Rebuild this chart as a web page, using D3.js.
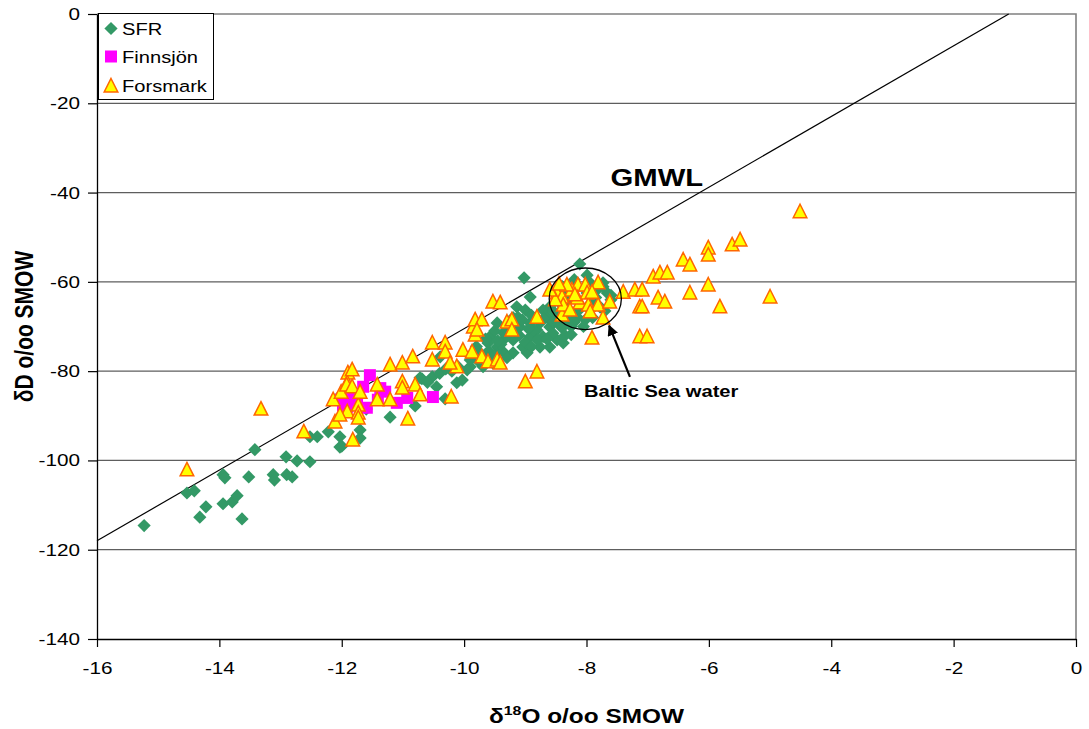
<!DOCTYPE html>
<html><head><meta charset="utf-8">
<script src="https://cdn.jsdelivr.net/npm/d3@7"></script>
<style>
html,body{margin:0;padding:0;background:#fff;}
svg{display:block;font-family:Arial,"Liberation Sans",Helvetica,sans-serif;}
</style></head><body>
<svg id="chart" width="1089" height="729"></svg>
<script>
// δ18O / δD pairs (‰ SMOW) per sampling area
const sfr = [
  [-15.23,-114.6],[-14.53,-107.3],[-14.41,-106.8],[-14.32,-112.7],[-14.22,-110.4],
  [-13.94,-103.2],[-13.91,-103.9],[-13.94,-109.7],[-13.79,-109.3],[-13.71,-107.9],
  [-13.63,-113.1],[-13.52,-103.7],[-13.42,-97.6],[-13.12,-103.2],[-13.10,-104.4],
  [-12.91,-99.2],[-12.90,-103.2],[-12.81,-103.7],[-12.73,-100.1],[-12.52,-100.3],
  [-12.52,-94.7],[-12.40,-94.7],[-12.22,-93.6],[-12.03,-94.7],[-12.00,-96.8],
  [-12.03,-97.0],[-11.70,-93.2],[-11.70,-95.0],[-11.21,-90.3],[-10.80,-87.8],
  [-10.69,-81.7],[-10.52,-81.3],[-10.31,-86.2],[-10.12,-82.6],[-10.03,-82.0],
  [-9.95,-79.7],[-10.39,-76.8],[-10.72,-81.5],[-12.05,-85.8],[-11.60,-88.5],
  [-10.20,-80.0],[-10.40,-80.5],[-9.90,-79.0],[-9.69,-79.0],[-9.53,-78.2],
  [-9.85,-76.4],[-9.74,-75.9],[-9.61,-73.7],[-9.58,-72.3],[-9.46,-74.6],
  [-9.36,-75.7],[-9.20,-75.9],[-8.97,-75.9],[-9.36,-73.0],[-9.20,-73.0],
  [-9.04,-74.6],[-8.92,-72.3],[-8.71,-72.3],[-8.48,-73.0],[-8.38,-73.7],
  [-8.60,-74.6],[-8.76,-74.6],[-9.46,-69.2],[-9.30,-70.1],[-9.09,-70.1],
  [-8.92,-69.2],[-8.76,-69.2],[-8.60,-70.1],[-9.14,-65.6],[-9.00,-66.3],
  [-9.12,-67.9],[-8.81,-70.8],[-9.25,-70.8],[-9.36,-71.4],[-8.40,-70.3],
  [-8.65,-67.9],[-8.48,-67.9],[-8.38,-65.6],[-8.32,-68.5],[-8.15,-67.9],
  [-7.99,-65.6],[-7.94,-60.2],[-7.83,-61.8],[-7.66,-62.5],[-7.73,-60.2],
  [-7.99,-62.5],[-8.60,-65.6],[-8.71,-66.3],[-8.92,-63.4],[-9.02,-59.1],
  [-8.11,-56.0],[-7.99,-58.5],[-7.73,-61.1],[-7.78,-65.6],[-8.02,-68.5],
  [-8.22,-67.0],[-9.65,-77.0],[-9.30,-77.0],[-9.10,-72.0],[-8.85,-71.0],
  [-8.55,-71.5],[-8.25,-70.0],[-8.10,-66.0],[-8.30,-64.0],[-8.50,-62.5],
  [-7.85,-63.5],[-7.60,-64.0],[-8.40,-61.0],[-9.20,-68.0],[-9.80,-74.5],
  [-9.90,-77.5],[-9.75,-78.0],[-9.60,-75.5],[-9.50,-76.5],[-9.40,-74.0],
  [-9.30,-72.0],[-9.15,-71.5],[-9.00,-73.5],[-8.90,-74.5],[-8.80,-73.0],
  [-8.65,-72.8],[-8.55,-69.0],[-8.45,-69.5],[-8.35,-72.0],[-8.25,-71.8],
  [-8.70,-68.2],[-8.90,-67.5],[-9.05,-68.5],[-8.95,-70.5],[-9.50,-71.0],
  [-9.65,-72.8],[-9.45,-73.2],[-8.20,-69.0],[-8.05,-70.0],[-7.90,-68.0],
  [-7.70,-66.5],[-7.60,-63.0],[-7.90,-64.5],[-8.00,-61.0],[-8.20,-59.5],
  [-8.30,-62.5],[-8.55,-66.5],[-10.10,-79.0],[-10.30,-79.5],[-10.60,-82.5],
  [-10.45,-83.5]
];
const finnsjon = [
  [-11.54,-80.9],[-11.29,-84.6],[-11.37,-83.8],[-10.51,-85.8],[-10.93,-86.0],
  [-11.10,-87.1],[-11.75,-87.1],[-11.98,-87.6],[-11.59,-88.2],[-11.41,-86.4],
  [-11.86,-85.8],[-12.03,-86.4],[-11.91,-88.0],[-11.65,-83.5]
];
const forsmark = [
  [-14.53,-102.1],[-13.32,-88.5],[-12.62,-93.6],[-12.11,-91.4],[-12.14,-86.4],
  [-12.01,-84.7],[-11.91,-89.1],[-11.90,-80.4],[-11.91,-82.6],[-11.92,-83.1],
  [-11.83,-79.7],[-11.83,-83.5],[-12.03,-89.8],[-11.73,-87.6],[-11.73,-89.4],
  [-11.73,-90.5],[-11.70,-84.7],[-11.82,-95.4],[-11.42,-83.1],[-11.42,-86.4],
  [-11.21,-78.6],[-11.21,-86.4],[-11.01,-78.2],[-11.01,-82.4],[-11.01,-83.8],
  [-10.92,-90.7],[-10.84,-76.8],[-10.80,-83.1],[-10.72,-85.3],[-10.52,-73.7],
  [-10.52,-77.5],[-10.31,-73.7],[-10.31,-75.7],[-10.21,-85.8],[-10.12,-79.0],
  [-10.02,-75.3],[-10.23,-78.2],[-9.87,-75.7],[-9.85,-70.1],[-9.82,-71.9],
  [-9.82,-68.5],[-9.71,-68.5],[-9.79,-70.8],[-9.71,-76.8],[-9.53,-64.5],
  [-9.41,-64.7],[-9.61,-77.9],[-9.46,-77.5],[-9.41,-78.2],[-9.30,-69.0],
  [-9.22,-68.5],[-9.22,-70.8],[-9.00,-82.4],[-8.81,-67.9],[-8.81,-80.2],
  [-8.48,-62.5],[-8.40,-63.4],[-8.40,-67.4],[-8.38,-65.2],[-8.24,-61.8],
  [-8.14,-60.7],[-8.11,-64.7],[-8.15,-63.6],[-8.02,-60.7],[-7.99,-62.5],
  [-7.97,-65.2],[-7.81,-60.2],[-7.81,-65.2],[-7.62,-64.5],[-7.73,-68.1],
  [-7.91,-72.6],[-7.40,-62.3],[-7.21,-61.8],[-7.13,-65.6],[-7.13,-72.3],
  [-7.01,-72.3],[-7.09,-61.8],[-7.09,-65.6],[-6.91,-58.9],[-6.80,-58.0],
  [-6.68,-58.0],[-6.83,-63.6],[-6.72,-64.5],[-6.42,-55.1],[-6.31,-56.2],
  [-6.31,-62.5],[-6.01,-52.4],[-6.01,-54.0],[-6.01,-60.7],[-5.82,-65.6],
  [-5.62,-51.7],[-5.49,-50.6],[-5.00,-63.4],[-4.51,-44.3],
  [-8.32,-60.7],[-8.19,-62.9],[-7.91,-62.3],[-8.51,-64.0],[-8.27,-66.3],
  [-7.94,-66.7],[-8.60,-61.8],[-8.45,-60.5]
];
const seriesNames = ["SFR", "Finnsjön", "Forsmark"];
const xTicks = [-16, -14, -12, -10, -8, -6, -4, -2, 0];
const yTicks = [0, -20, -40, -60, -80, -100, -120, -140];
// Global meteoric water line, end points
const gmwl = [[-16, -118], [-1.1, 0]];
// Baltic Sea water annotation: ellipse centre, radii (data units), arrow tail/tip
const balticCentre = [-8.02, -63.8];
const balticRadii = [0.59, 6.9];
const balticArrow = [[-7.29, -81.3], [-7.63, -69.8]];

const plot = {left: 97, right: 1076, top: 14, bottom: 639};
const SX = 1.22;           // horizontal stretch of the lettering
const FONT = 'Arial,"Liberation Sans",Helvetica,sans-serif';

const svg = d3.select("#chart");
const x = d3.scaleLinear().domain([-16, 0]).range([plot.left, plot.right]);
const y = d3.scaleLinear().domain([-140, 0]).range([plot.bottom, plot.top]);

// stretched text helper
function label(parent, px, py, str, opt = {}) {
  const g = parent.append("g")
    .attr("transform", `translate(${px},${py}) scale(${SX},1)` + (opt.rotate ? ` rotate(${opt.rotate})` : ""));
  const t = g.append("text")
    .attr("font-family", FONT)
    .attr("font-size", opt.size || 17)
    .attr("font-weight", opt.bold ? "bold" : "normal")
    .attr("text-anchor", opt.anchor || "start")
    .attr("fill", "#000");
  if (str !== null) t.text(str);
  return t;
}

// horizontal gridlines
svg.append("g").selectAll("line")
  .data(yTicks.filter(d => d !== 0 && d !== -140))
  .join("line")
  .attr("x1", plot.left).attr("x2", plot.right)
  .attr("y1", d => y(d)).attr("y2", d => y(d))
  .attr("stroke", "#5e5e5e").attr("stroke-width", 1.2);

// top and right frame
svg.append("path")
  .attr("d", `M${plot.left},${y(0)}H${x(0)}V${y(-140)}`)
  .attr("fill", "none").attr("stroke", "#808080").attr("stroke-width", 1.6);

// axes
const yAxis = d3.axisLeft(y).tickValues(yTicks).tickSize(9).tickSizeOuter(0)
  .tickPadding(8).tickFormat(d => String(d));
const gy = svg.append("g").attr("transform", `translate(${plot.left},0)`).call(yAxis);
const xAxis = d3.axisBottom(x).tickValues(xTicks).tickSize(8).tickSizeOuter(0)
  .tickPadding(15).tickFormat(d => String(d));
const gx = svg.append("g").attr("transform", `translate(0,${plot.bottom})`).call(xAxis);
[gy, gx].forEach(g => {
  g.select(".domain").attr("stroke", "#000").attr("stroke-width", 1.3);
  g.selectAll(".tick line").attr("stroke", "#000").attr("stroke-width", 1.2);
  g.selectAll("text").attr("font-family", FONT).attr("font-size", 17).attr("fill", "#000")
    .each(function () {
      const t = d3.select(this);
      const xx = +t.attr("x") || 0;
      t.attr("x", xx / SX).attr("transform", `scale(${SX},1)`);
    });
});

// GMWL
svg.append("line")
  .attr("x1", x(gmwl[0][0])).attr("y1", y(gmwl[0][1]))
  .attr("x2", x(gmwl[1][0])).attr("y2", y(gmwl[1][1]))
  .attr("stroke", "#000").attr("stroke-width", 1.2);

// marker shapes
const shapes = {
  diamond: "M0,-6.6L6.6,0L0,6.6L-6.6,0Z",
  square: "M-6,-6H6V6H-6Z",
  triangle: "M0,-7.5L6.8,6L-6.8,6Z"
};
const styles = [
  {d: shapes.diamond, fill: "#339966", stroke: "none", sw: 0},
  {d: shapes.square, fill: "#FF00FF", stroke: "none", sw: 0},
  {d: shapes.triangle, fill: "#FFFF00", stroke: "#FF6600", sw: 1.5}
];
[sfr, finnsjon, forsmark].forEach((data, i) => {
  const s = styles[i];
  svg.append("g").selectAll("path").data(data).join("path")
    .attr("d", s.d)
    .attr("transform", d => `translate(${x(d[0])},${y(d[1])})`)
    .attr("fill", s.fill).attr("stroke", s.stroke).attr("stroke-width", s.sw)
    .attr("stroke-linejoin", "miter");
});

// Baltic Sea water ellipse and arrow
svg.append("ellipse")
  .attr("cx", x(balticCentre[0])).attr("cy", y(balticCentre[1]))
  .attr("rx", x(balticCentre[0] + balticRadii[0]) - x(balticCentre[0]))
  .attr("ry", y(balticCentre[1]) - y(balticCentre[1] + balticRadii[1]))
  .attr("fill", "none").attr("stroke", "#000").attr("stroke-width", 1.3);
svg.append("defs").append("marker")
  .attr("id", "head").attr("viewBox", "0 0 10 10").attr("refX", 9).attr("refY", 5)
  .attr("markerWidth", 5).attr("markerHeight", 5).attr("orient", "auto")
  .append("path").attr("d", "M0,0L10,5L0,10Z").attr("fill", "#000");
svg.append("line")
  .attr("x1", x(balticArrow[0][0])).attr("y1", y(balticArrow[0][1]))
  .attr("x2", x(balticArrow[1][0])).attr("y2", y(balticArrow[1][1]))
  .attr("stroke", "#000").attr("stroke-width", 2.2).attr("marker-end", "url(#head)");

// annotations
label(svg, x(-6.85), y(-38.6), "GMWL", {size: 24, bold: true, anchor: "middle"});
label(svg, x(-8.04), y(-85.8), "Baltic Sea water", {size: 16.5, bold: true});

// axis titles
const xt = label(svg, (plot.left + plot.right) / 2, 723, null, {size: 20, bold: true, anchor: "middle"});
xt.append("tspan").text("δ");
xt.append("tspan").attr("font-size", 13).attr("dy", -8).text("18");
xt.append("tspan").attr("dy", 8).text("O o/oo SMOW");
label(svg, 33, (plot.top + plot.bottom) / 2, "δD o/oo SMOW", {size: 21, bold: true, anchor: "middle", rotate: -90});

// legend
const lg = svg.append("g");
lg.append("rect").attr("x", 98.5).attr("y", 13.5).attr("width", 115).attr("height", 86)
  .attr("fill", "#fff").attr("stroke", "#000").attr("stroke-width", 1);
seriesNames.forEach((name, i) => {
  const cy = [28.5, 56.5, 86][i];
  const s = styles[i];
  lg.append("path").attr("d", s.d).attr("transform", `translate(111,${cy})`)
    .attr("fill", s.fill).attr("stroke", s.stroke).attr("stroke-width", s.sw);
  label(lg, 122, [35, 63, 92][i], name, {size: 16.5});
});
</script>
</body></html>
